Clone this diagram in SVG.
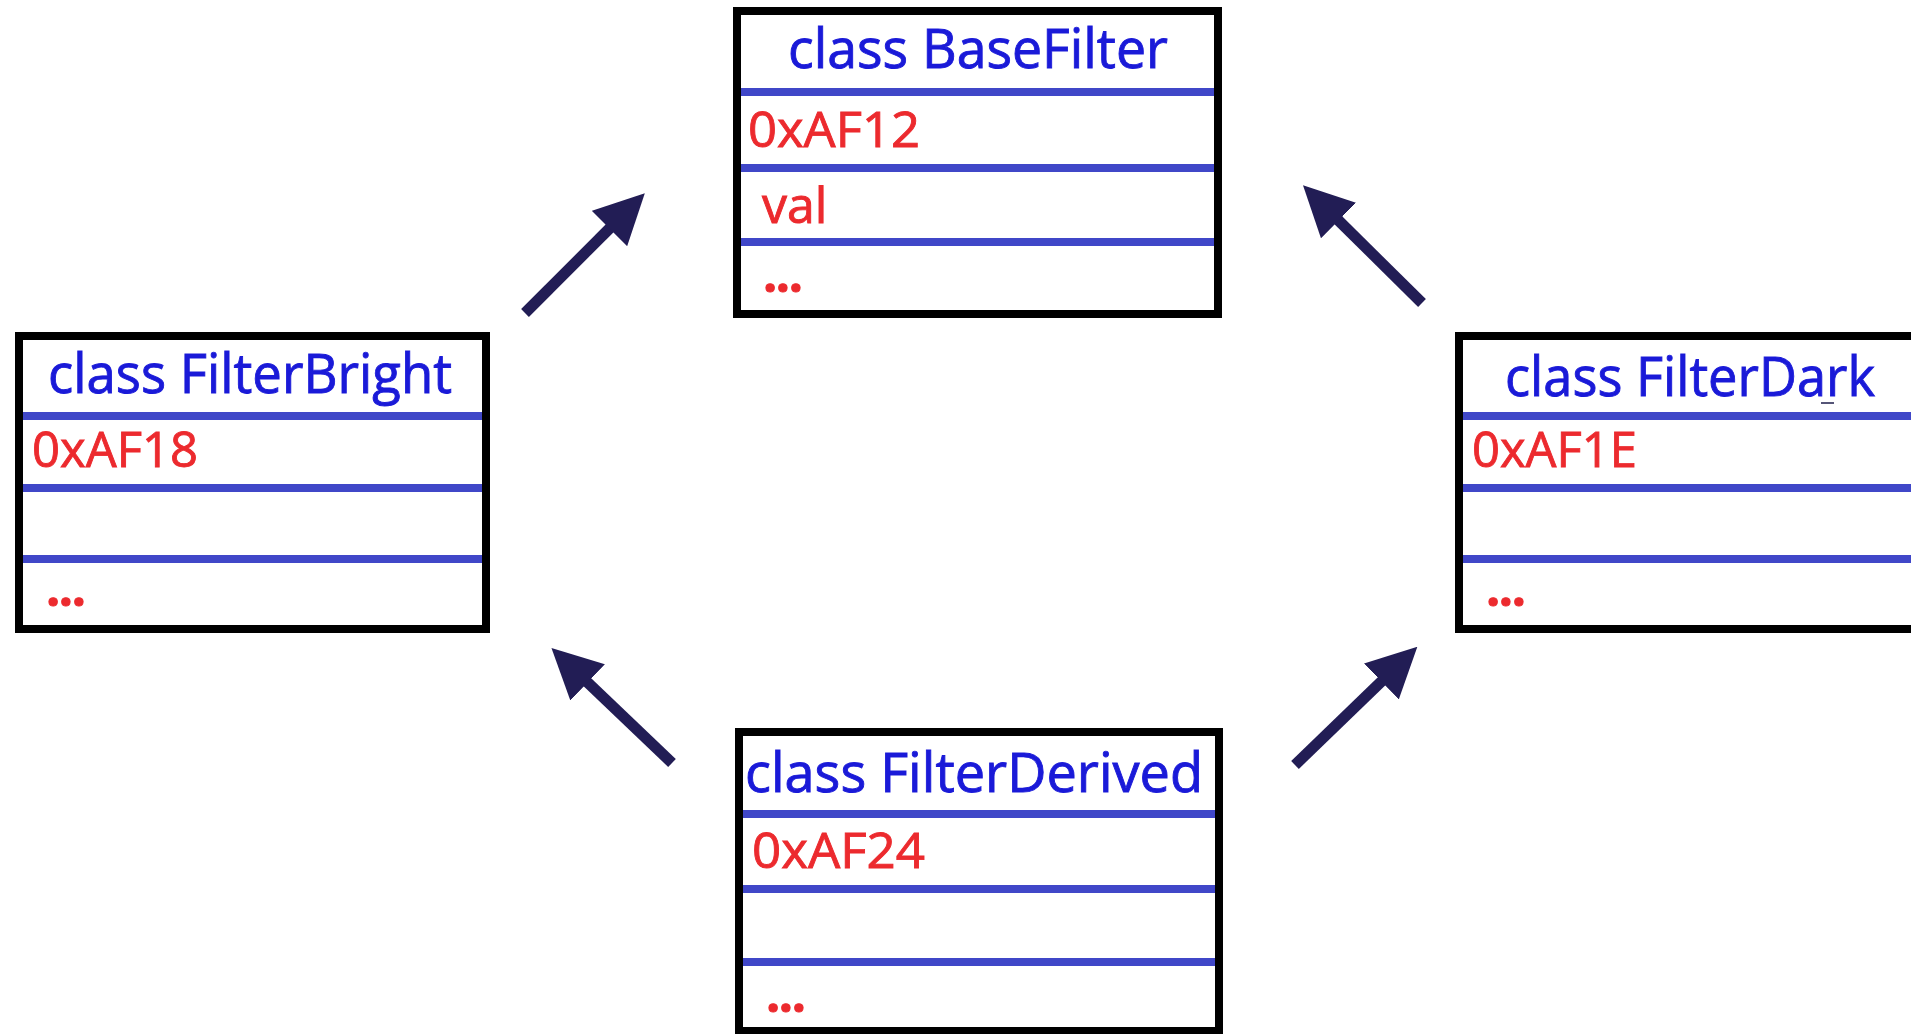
<svg xmlns="http://www.w3.org/2000/svg" width="1911" height="1034" viewBox="0 0 1911 1034">
  <style>
    .box { fill: #ffffff; stroke: #000000; stroke-width: 8; }
    .sep { stroke: #4047c8; stroke-width: 8; }
    .title { font-family: "Open Sans", "Liberation Sans", sans-serif; font-size: 54px; fill: #1a1ad8; stroke: #1a1ad8; stroke-width: 0.9; }
    .field { font-family: "Open Sans", "Liberation Sans", sans-serif; font-size: 50px; fill: #ec2a2e; stroke: #ec2a2e; stroke-width: 0.9; }
    .dots { font-weight: bold; }
    .arrow { stroke: #221d55; stroke-width: 11; fill: none; marker-end: url(#head); }
  </style>
  <defs>
    <marker id="head" markerUnits="userSpaceOnUse" viewBox="0 0 50 50" refX="5" refY="25" markerWidth="50" markerHeight="50" orient="auto">
      <path d="M0,0 L50,25 L0,50 Z" fill="#221d55"/>
    </marker>
  </defs>
  <rect width="1911" height="1034" fill="#ffffff"/>

  <!-- base class -->
  <g id="BaseFilter">
    <rect class="box" x="737" y="11" width="481" height="303"/>
    <line class="sep" x1="741" y1="92" x2="1214" y2="92"/>
    <line class="sep" x1="741" y1="168" x2="1214" y2="168"/>
    <line class="sep" x1="741" y1="242" x2="1214" y2="242"/>
    <text class="title" x="788" y="68" textLength="380" lengthAdjust="spacingAndGlyphs">class BaseFilter</text>
    <text class="field" x="748" y="147" textLength="172" lengthAdjust="spacingAndGlyphs">0xAF12</text>
    <text class="field" x="762" y="223">val</text>
    <text class="field dots" x="763" y="292" textLength="40">...</text>
  </g>

  <!-- left subclass -->
  <g id="FilterBright">
    <rect class="box" x="19" y="336" width="467" height="293"/>
    <line class="sep" x1="23" y1="416" x2="482" y2="416"/>
    <line class="sep" x1="23" y1="488" x2="482" y2="488"/>
    <line class="sep" x1="23" y1="559" x2="482" y2="559"/>
    <text class="title" x="48" y="393" textLength="404" lengthAdjust="spacingAndGlyphs">class FilterBright</text>
    <text class="field" x="32" y="467" textLength="166" lengthAdjust="spacingAndGlyphs">0xAF18</text>
    <text class="field dots" x="46" y="606" textLength="40">...</text>
  </g>

  <!-- right subclass -->
  <g id="FilterDark">
    <rect class="box" x="1459" y="336" width="500" height="293"/>
    <line class="sep" x1="1463" y1="416" x2="1911" y2="416"/>
    <line class="sep" x1="1463" y1="488" x2="1911" y2="488"/>
    <line class="sep" x1="1463" y1="559" x2="1911" y2="559"/>
    <text class="title" x="1505" y="396" textLength="370" lengthAdjust="spacingAndGlyphs">class FilterDark</text>
    <line x1="1821" y1="403" x2="1834" y2="403" stroke="#555577" stroke-width="2"/>
    <text class="field" x="1472" y="467" textLength="165" lengthAdjust="spacingAndGlyphs">0xAF1E</text>
    <text class="field dots" x="1486" y="606" textLength="40">...</text>
  </g>

  <!-- most derived class -->
  <g id="FilterDerived">
    <rect class="box" x="739" y="732" width="480" height="299"/>
    <line class="sep" x1="743" y1="814" x2="1215" y2="814"/>
    <line class="sep" x1="743" y1="889" x2="1215" y2="889"/>
    <line class="sep" x1="743" y1="962" x2="1215" y2="962"/>
    <text class="title" x="745" y="792" textLength="458" lengthAdjust="spacingAndGlyphs">class FilterDerived</text>
    <text class="field" x="752" y="868" textLength="173" lengthAdjust="spacingAndGlyphs">0xAF24</text>
    <text class="field dots" x="766" y="1012" textLength="40">...</text>
  </g>

  <!-- inheritance arrows -->
  <g id="connectors">
    <line class="arrow" x1="525" y1="313" x2="613" y2="225"/>
    <line class="arrow" x1="1422" y1="303" x2="1335" y2="217"/>
    <line class="arrow" x1="672" y1="763" x2="584" y2="679"/>
    <line class="arrow" x1="1295" y1="765" x2="1385" y2="678"/>
  </g>
</svg>
